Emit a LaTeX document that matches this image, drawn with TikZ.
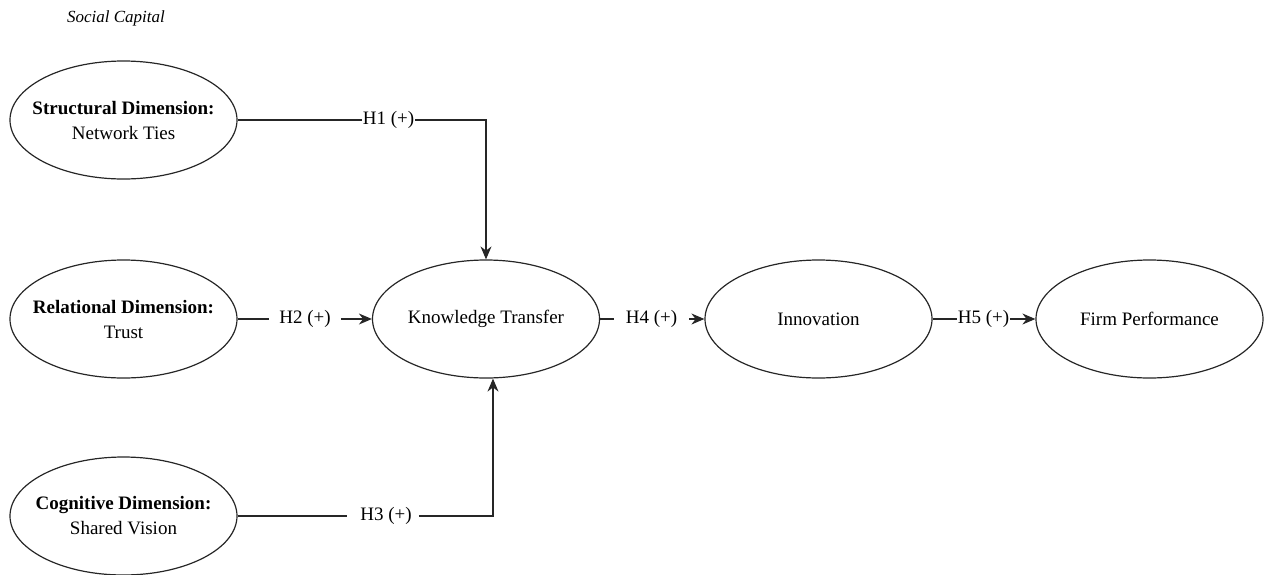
\documentclass[tikz,border=0pt]{standalone}
\usepackage{fontspec}
\setmainfont{Liberation Serif}
\usetikzlibrary{shapes.geometric,arrows.meta}

\begin{document}
\begin{tikzpicture}[x=1pt, y=-1pt,
    construct/.style={ellipse, draw=black!85, line width=1.2pt,
        minimum width=227pt, minimum height=118pt, inner ysep=0pt, inner xsep=-25pt,
        align=center, font=\fontsize{19}{25}\selectfont},
    hyp/.style={inner ysep=0pt, inner xsep=1pt, font=\fontsize{19}{23}\selectfont},
    link/.style={line width=1.2pt, draw=black!85},
    arrowlink/.style={link, -{Stealth[length=13pt,width=11pt]}}
]
    \useasboundingbox (0,0) rectangle (1264,574);
    \node[font=\itshape\fontsize{17}{20}\selectfont] (title) at (116,18) {Social Capital};
    \node[construct] (sd) at (123.5,120) {{\bfseries Structural Dimension:}\\Network Ties};
    \node[construct] (rd) at (123.5,319) {{\bfseries Relational Dimension:}\\Trust};
    \node[construct] (cd) at (123.5,516) {{\bfseries Cognitive Dimension:}\\Shared Vision};
    \node[construct] (kt) at (486,319) {Knowledge Transfer};
    \node[construct] (inn) at (818.5,319) {Innovation};
    \node[construct] (fp) at (1149.5,319) {Firm Performance};
    \node[hyp] (h1) at (388.5,120) {H1 (+)};
    \node[hyp, inner xsep=10pt] (h2) at (305,319) {H2 (+)};
    \node[hyp] (h3) at (386,516) {H3 (+)};
    \node[hyp, inner xsep=12pt] (h4) at (651.5,319) {H4 (+)};
    \node[hyp] (h5) at (983.5,319) {H5 (+)};
    \draw[link] (sd.east) -- (h1.west);
    \draw[arrowlink] (h1.east) -| (kt.north);
    \draw[link] (rd.east) -- (h2.west);
    \draw[arrowlink] (h2.east) -- (kt.west);
    \draw[link] (cd.east) -- ([xshift=-12]h3.west);
    \draw[arrowlink] ([xshift=6]h3.east) -| ([xshift=7]kt.south);
    \draw[link] (kt.east) -- (h4.west);
    \draw[arrowlink] (h4.east) -- (inn.west);
    \draw[link] (inn.east) -- (h5.west);
    \draw[arrowlink] (h5.east) -- (fp.west);
\end{tikzpicture}
\end{document}
